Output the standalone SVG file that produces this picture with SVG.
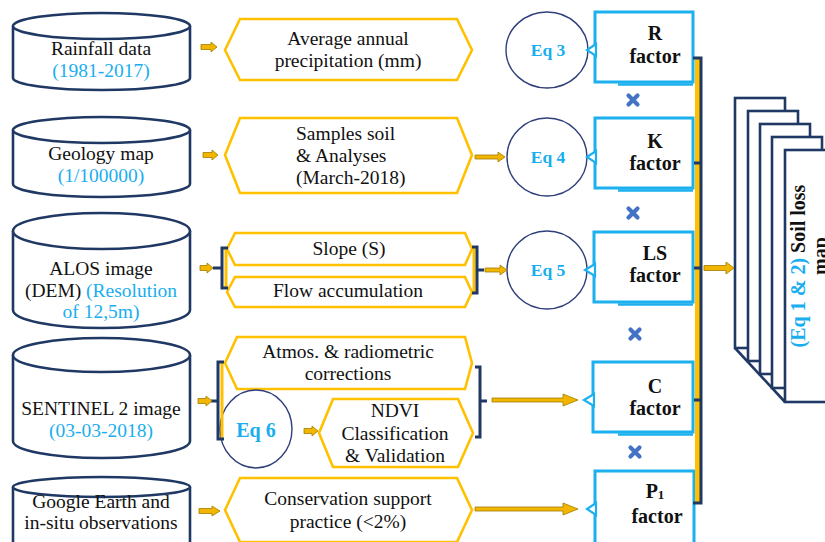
<svg xmlns="http://www.w3.org/2000/svg" width="825" height="542" viewBox="0 0 825 542">
<defs>
<style>
.cyl{fill:#fff;stroke:#1F3864;stroke-width:2.6}
.hex{fill:#fff;stroke:#FFC000;stroke-width:2.6;stroke-linejoin:miter}
.t{font-family:"Liberation Serif","Times New Roman",serif;font-size:19.5px;fill:#111}
.b{fill:#19AEEF}
.eq{font-family:"Liberation Serif","Times New Roman",serif;font-weight:bold;fill:#19AEEF;text-anchor:middle}
.f{font-family:"Liberation Serif","Times New Roman",serif;font-weight:bold;font-size:20px;fill:#111;text-anchor:middle}
.c{text-anchor:middle}
.circ{fill:#fff;stroke:#2F3F7A;stroke-width:1.4}
.box{fill:#fff;stroke:#1DB0EE;stroke-width:3}
.ptr{fill:#fff;stroke:#1DB0EE;stroke-width:2.2;stroke-linejoin:miter}
.sh{stroke:#1DB0EE;stroke-width:2.5;fill:none}
.arr{fill:#F2B600;stroke:#A07C00;stroke-width:0.8}
.nv{fill:none;stroke:#1F3864;stroke-width:3}
.gd{fill:none;stroke:#FFC000;stroke-width:3}
.page{fill:#fff;stroke:#1F3864;stroke-width:2.6}
.x{stroke:#4472C4;stroke-width:4.2;stroke-linecap:round}
</style>
<path id="cross" class="x" d="M-4.5,-4.5 L4.5,4.5 M4.5,-4.5 L-4.5,4.5"/>
</defs>

<!-- Cylinders -->
<g id="rainfall">
<path class="cyl" d="M13,26 L13,78 A88.5,12 0 0 0 190,78 L190,26"/>
<ellipse class="cyl" cx="101.5" cy="26" rx="88.5" ry="13"/>
<text class="t c" x="101" y="55">Rainfall data</text>
<text class="t c b" x="101" y="77">(1981-2017)</text>
</g>
<g id="geology">
<path class="cyl" d="M13,130 L13,184 A88.5,13 0 0 0 190,184 L190,130"/>
<ellipse class="cyl" cx="101.5" cy="130" rx="88.5" ry="13"/>
<text class="t c" x="101" y="160">Geology map</text>
<text class="t c b" x="101" y="182">(1/100000)</text>
</g>
<g id="alos">
<path class="cyl" d="M13,231 L13,310 A88.5,18 0 0 0 190,310 L190,231"/>
<ellipse class="cyl" cx="101.5" cy="231" rx="88.5" ry="18"/>
<text class="t c" x="101" y="275">ALOS image</text>
<text class="t c" x="101" y="297">(DEM) <tspan class="b">(Resolution</tspan></text>
<text class="t c b" x="101" y="318">of 12,5m)</text>
</g>
<g id="sentinel">
<path class="cyl" d="M13,355 L13,441 A88.5,17 0 0 0 190,441 L190,355"/>
<ellipse class="cyl" cx="101.5" cy="355" rx="88.5" ry="17"/>
<text class="t c" x="101" y="415">SENTINEL 2 image</text>
<text class="t c b" x="101" y="437">(03-03-2018)</text>
</g>
<g id="google">
<path class="cyl" d="M13,487 L13,560 L190,560 L190,487"/>
<ellipse class="cyl" cx="101.5" cy="487" rx="88.5" ry="10"/>
<text class="t c" x="101" y="508">Google Earth and</text>
<text class="t c" x="101" y="529">in-situ observations</text>
</g>

<!-- Hexagons -->
<g id="precip">
<polygon class="hex" points="225,50 240,19 457,19 472,50 457,80 240,80"/>
<text class="t c" x="348" y="45">Average annual</text>
<text class="t c" x="348" y="67">precipitation (mm)</text>
</g>
<g id="samples">
<polygon class="hex" points="225,155 240,118 457,118 472,155 457,193 240,193"/>
<text class="t" x="296" y="140">Samples soil</text>
<text class="t" x="296" y="162">&amp; Analyses</text>
<text class="t" x="296" y="184">(March-2018)</text>
</g>
<g id="slope">
<polygon class="hex" points="227,249 235,233 465,233 472,249 465,265 235,265"/>
<text class="t c" x="349" y="255">Slope (S)</text>
</g>
<g id="flow">
<polygon class="hex" points="227,292 235,277 465,277 472,292 465,307 235,307"/>
<text class="t c" x="348" y="297">Flow accumulation</text>
</g>
<g id="atmos">
<polygon class="hex" points="225,363 237,337 465,337 472,363 465,389 237,389"/>
<text class="t c" x="348" y="358">Atmos. &amp; radiometric</text>
<text class="t c" x="348" y="380">corrections</text>
</g>
<g id="ndvi">
<polygon class="hex" points="319,433 333,399 458,399 473,433 458,467 333,467"/>
<text class="t c" x="395" y="417">NDVI</text>
<text class="t c" x="395" y="440">Classification</text>
<text class="t c" x="395" y="462">&amp; Validation</text>
</g>
<g id="conservation">
<polygon class="hex" points="225,510 240,478 457,478 472,510 457,542 240,542"/>
<text class="t c" x="348" y="505">Conservation support</text>
<text class="t c" x="348" y="528">practice (&lt;2%)</text>
</g>

<!-- Eq circles -->
<g id="eq3"><ellipse class="circ" cx="547" cy="50" rx="41" ry="38"/><text class="eq" x="548" y="56" font-size="17.5">Eq 3</text></g>
<g id="eq4"><ellipse class="circ" cx="547" cy="157" rx="40" ry="39"/><text class="eq" x="548" y="163" font-size="17.5">Eq 4</text></g>
<g id="eq5"><ellipse class="circ" cx="547" cy="270" rx="40" ry="39"/><text class="eq" x="548" y="276" font-size="17.5">Eq 5</text></g>
<g id="eq6"><ellipse class="circ" cx="256" cy="429" rx="36" ry="39"/><text class="eq" x="256" y="437" font-size="20">Eq 6</text></g>

<!-- Factor boxes -->
<g id="rfactor">
<line class="sh" x1="618" y1="84.5" x2="693" y2="84.5"/>
<rect class="box" x="595" y="12" width="98" height="70"/>
<polygon class="ptr" points="596,44 587,50 596,56"/>
<text class="f" x="655" y="40">R</text><text class="f" x="655" y="63">factor</text>
</g>
<g id="kfactor">
<line class="sh" x1="618" y1="190.5" x2="693" y2="190.5"/>
<rect class="box" x="595" y="118" width="98" height="70"/>
<polygon class="ptr" points="596,151 587,157 596,163"/>
<text class="f" x="655" y="148">K</text><text class="f" x="655" y="170">factor</text>
</g>
<g id="lsfactor">
<line class="sh" x1="618" y1="304.5" x2="693" y2="304.5"/>
<rect class="box" x="594" y="232" width="99" height="70"/>
<polygon class="ptr" points="595,264 585,270 595,276"/>
<text class="f" x="655" y="260">LS</text><text class="f" x="655" y="282">factor</text>
</g>
<g id="cfactor">
<line class="sh" x1="618" y1="434.5" x2="693" y2="434.5"/>
<rect class="box" x="593" y="362" width="100" height="70"/>
<polygon class="ptr" points="594,394 584,400 594,406"/>
<text class="f" x="655" y="393">C</text><text class="f" x="655" y="415">factor</text>
</g>
<g id="pfactor">
<rect class="box" x="595" y="471" width="99" height="74"/>
<polygon class="ptr" points="596,503 587,509 596,515"/>
<text class="f" x="655" y="498">P<tspan font-size="13" dy="1">1</tspan></text><text class="f" x="657" y="523">factor</text>
</g>

<!-- multiplication signs -->
<g id="crosses">
<use href="#cross" x="633" y="100"/>
<use href="#cross" x="633" y="213"/>
<use href="#cross" x="635" y="334"/>
<use href="#cross" x="635" y="452"/>
</g>

<!-- Soil loss map stack -->
<g id="soilloss">
<line x1="735" y1="348" x2="785" y2="402" stroke="#1F3864" stroke-width="2.6"/>
<rect class="page" x="735" y="98" width="50" height="250"/>
<rect class="page" x="748" y="111" width="50" height="250"/>
<rect class="page" x="760" y="124" width="50" height="250"/>
<rect class="page" x="772" y="137" width="50" height="251"/>
<rect class="page" x="785" y="150" width="60" height="252"/>
<g transform="translate(805,266) rotate(-90)">
<text class="f" x="0" y="0" font-size="20.5"><tspan fill="#19AEEF">(Eq 1 &amp; 2)</tspan>  Soil loss</text>
<text class="f" x="10" y="22" font-size="20.5">map</text>
</g>
</g>

<!-- Connectors -->
<g id="connectors">
<!-- brackets ALOS -->
<line class="gd" x1="226" y1="248" x2="226" y2="288"/>
<path class="nv" d="M228,248 L222,248 L222,288 L228,288 M213,268 L222,268"/>
<line class="gd" x1="474" y1="248" x2="474" y2="292"/>
<path class="nv" d="M472,247 L477,247 L477,293 L472,293 M477,270 L484,270"/>
<!-- brackets SENTINEL -->
<line class="gd" x1="222" y1="363" x2="222" y2="438"/>
<path class="nv" d="M224,362 L218,362 L218,439 L224,439 M211,401 L218,401"/>
<path class="nv" d="M475,367 L480,367 L480,437 L475,437 M480,401 L487,401"/>
<!-- right collector bar -->
<rect x="695" y="58" width="5" height="445" fill="#FFC000"/>
<path class="nv" d="M693,58 L701,58 L701,503 L693,503" stroke-width="2.4"/>
<path class="nv" d="M694,163 L702,163 M694,268 L702,268 M694,400 L702,400" stroke-width="2.4"/>
<!-- arrows -->
<path class="arr" d="M201,44.5 L211,44.5 L211,42 L217,47 L211,52 L211,49.5 L201,49.5 Z"/>
<path class="arr" d="M203,152.5 L212,152.5 L212,150 L218,155 L212,160 L212,157.5 L203,157.5 Z"/>
<path class="arr" d="M200,265.5 L207,265.5 L207,263 L213,268 L207,273 L207,270.5 L200,270.5 Z"/>
<path class="arr" d="M485,268 L500,268 L500,265 L507,270 L500,275 L500,272 L485,272 Z"/>
<path class="arr" d="M475,155 L498,155 L498,152 L505,157 L498,162 L498,159 L475,159 Z"/>
<path class="arr" d="M198,398.5 L206,398.5 L206,396 L212,401 L206,406 L206,403.5 L198,403.5 Z"/>
<path class="arr" d="M304,428.5 L312,428.5 L312,426 L318,431 L312,436 L312,433.5 L304,433.5 Z"/>
<path class="arr" d="M492,398 L563,398 L563,394 L578,400 L563,406 L563,402 L492,402 Z"/>
<path class="arr" d="M199,508.5 L212,508.5 L212,506 L220,511 L212,516 L212,513.5 L199,513.5 Z"/>
<path class="arr" d="M475,507 L563,507 L563,503 L578,509 L563,515 L563,511 L475,511 Z"/>
<path class="arr" d="M704,265.5 L726,265.5 L726,262 L734,268 L726,274 L726,270.5 L704,270.5 Z"/>
</g>
</svg>
